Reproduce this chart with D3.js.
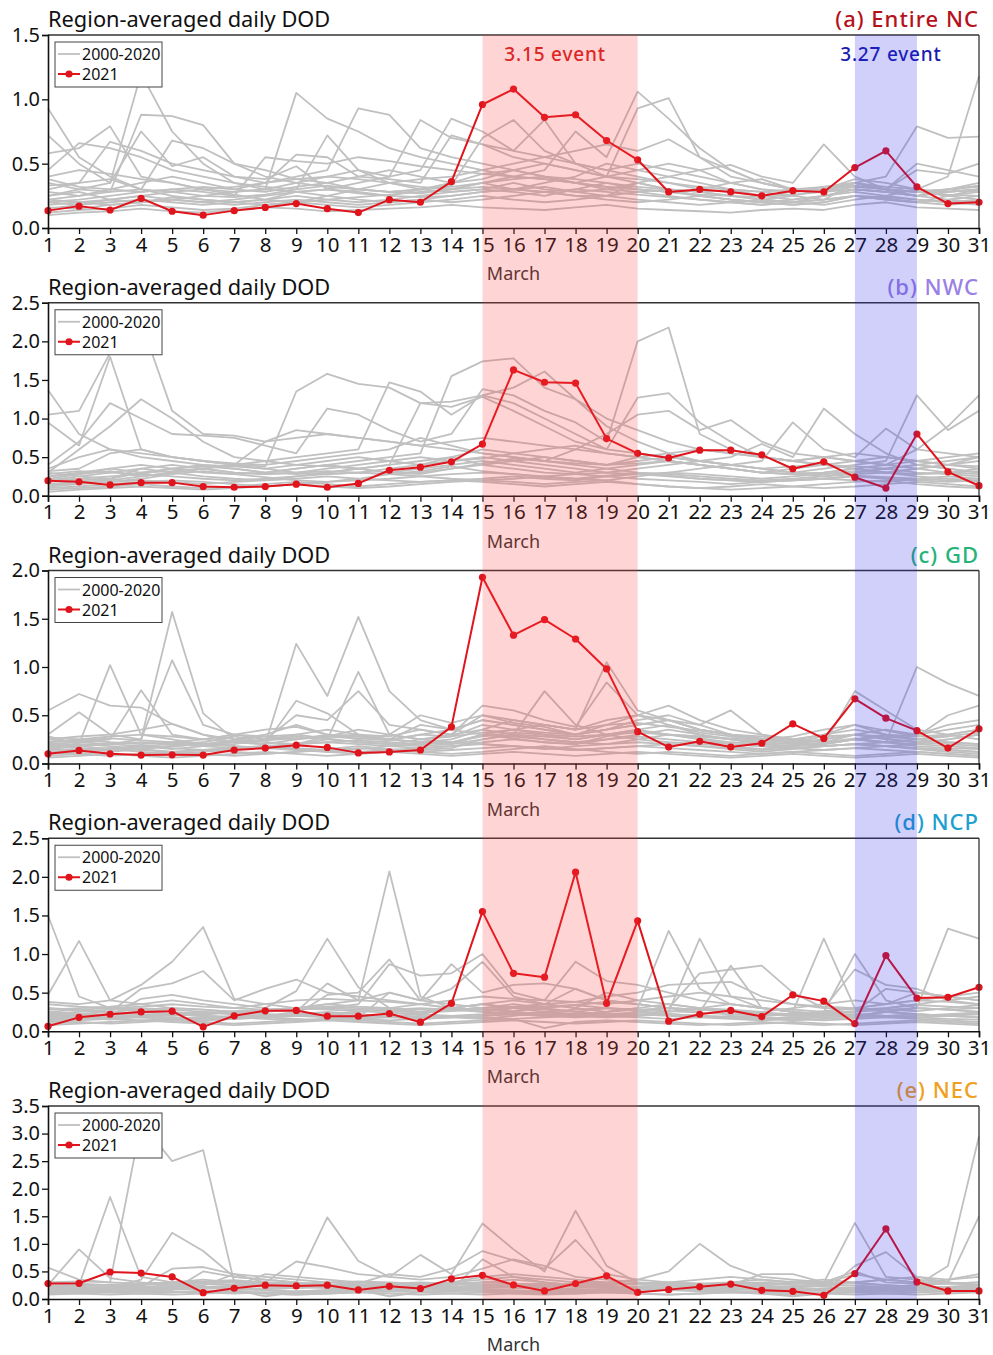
<!DOCTYPE html>
<html>
<head>
<meta charset="utf-8">
<script src="https://cdn.jsdelivr.net/npm/d3@7"></script>
<style>
  html, body { margin: 0; padding: 0; background: #fff; }
  svg { display: block; font-family: "Noto Sans", "Open Sans", sans-serif; }
</style>
</head>
<body>
<svg id="chart" width="993" height="1355"></svg>
<script>
// ---------------- DATA ----------------
const days = d3.range(1, 32);
const xAxisLabel = "March";
const yTitle = "Region-averaged daily DOD";
const legendLabels = ["2000-2020", "2021"];
const panelLabels = ["(a) Entire NC", "(b) NWC", "(c) GD", "(d) NCP", "(e) NEC"];
const yMax = [1.5, 2.5, 2.0, 2.5, 3.5];
const yTicksA = [0, 0.5, 1.0, 1.5];
const yTicksB = [0, 0.5, 1.0, 1.5, 2.0, 2.5];
const yTicksC = [0, 0.5, 1.0, 1.5, 2.0];
const yTicksD = [0, 0.5, 1.0, 1.5, 2.0, 2.5];
const yTicksE = [0, 0.5, 1.0, 1.5, 2.0, 2.5, 3.0, 3.5];
const event1 = {label: "3.15 event", start: 15, end: 20};
const event2 = {label: "3.27 event", start: 27, end: 29};

// 2021 red series
const red2021A = [0.135,0.17,0.14,0.23,0.13,0.10,0.135,0.16,0.19,0.15,0.12,0.22,0.20,0.36,0.96,1.08,0.86,0.88,0.68,0.53,0.28,0.30,0.28,0.25,0.29,0.28,0.47,0.60,0.32,0.19,0.20];
const red2021B = [0.195,0.18,0.14,0.17,0.17,0.12,0.11,0.12,0.15,0.11,0.16,0.33,0.37,0.44,0.67,1.63,1.47,1.46,0.74,0.55,0.49,0.59,0.59,0.53,0.35,0.44,0.24,0.10,0.80,0.31,0.13];
const red2021C = [0.10,0.135,0.10,0.087,0.09,0.087,0.14,0.16,0.19,0.167,0.11,0.12,0.14,0.38,1.93,1.33,1.49,1.29,0.98,0.33,0.17,0.23,0.17,0.21,0.41,0.26,0.67,0.47,0.34,0.16,0.36];
const red2021D = [0.065,0.18,0.22,0.25,0.26,0.057,0.20,0.265,0.27,0.195,0.195,0.23,0.117,0.36,1.55,0.75,0.70,2.06,0.36,1.43,0.13,0.22,0.27,0.19,0.47,0.39,0.10,0.98,0.43,0.44,0.57];
const red2021E = [0.28,0.285,0.49,0.47,0.40,0.115,0.195,0.25,0.237,0.25,0.164,0.23,0.19,0.365,0.43,0.255,0.146,0.28,0.42,0.12,0.17,0.22,0.27,0.158,0.14,0.067,0.46,1.27,0.31,0.146,0.146];

// 2000-2020 gray series (one row per year)
const grayA = [
[0.93,0.55,0.40,0.30,0.25,0.22,0.20,0.22,0.28,0.30,0.27,0.25,0.30,0.35,0.42,0.45,0.40,0.35,0.32,0.30,0.28,0.25,0.22,0.20,0.22,0.25,0.30,0.28,0.25,0.22,0.20],
[0.72,0.50,0.35,1.20,0.75,0.50,0.35,0.30,0.35,0.40,0.45,0.35,0.30,0.28,0.30,0.35,0.30,0.28,0.30,0.35,0.30,0.25,0.22,0.20,0.18,0.20,0.25,0.22,0.20,0.25,0.30],
[0.35,0.30,0.28,0.88,0.87,0.80,0.50,0.40,0.35,0.32,0.30,0.28,0.30,0.32,0.35,0.30,0.28,0.25,0.25,0.28,0.30,0.28,0.25,0.22,0.20,0.22,0.25,0.23,0.20,0.22,0.25],
[0.58,0.62,0.79,0.40,0.35,0.30,0.28,0.30,1.05,0.85,0.75,0.62,0.55,0.50,0.45,0.40,0.38,0.35,0.30,0.28,0.25,0.22,0.20,0.18,0.20,0.25,0.30,0.28,0.25,0.28,0.30],
[0.25,0.30,0.35,0.75,0.48,0.55,0.40,0.35,0.40,0.45,0.93,0.88,0.62,0.55,0.50,0.45,0.40,0.38,0.35,0.32,0.30,0.28,0.25,0.22,0.25,0.30,0.35,0.30,0.28,0.25,0.28],
[0.45,0.66,0.62,0.55,0.45,0.40,0.35,0.32,0.30,0.72,0.45,0.40,0.84,0.70,0.65,0.60,0.84,0.50,0.40,0.35,0.30,0.28,0.30,0.25,0.22,0.25,0.28,0.25,0.22,0.20,0.22],
[0.30,0.35,0.67,0.60,0.50,0.45,0.40,0.38,0.48,0.30,0.35,0.40,0.45,0.85,0.75,0.60,0.55,0.50,0.45,0.50,0.45,0.40,0.35,0.30,0.28,0.30,0.35,0.32,0.30,0.28,0.30],
[0.22,0.25,0.28,0.30,0.68,0.62,0.50,0.45,0.38,0.35,0.30,0.28,0.27,0.30,0.35,0.40,0.45,0.75,0.55,1.06,0.85,0.62,0.45,0.35,0.30,0.28,0.30,0.28,0.25,0.30,0.35],
[0.20,0.22,0.25,0.28,0.30,0.28,0.25,0.55,0.52,0.50,0.55,0.52,0.48,0.45,0.42,0.40,0.38,0.35,0.40,0.93,1.01,0.55,0.40,0.35,0.30,0.28,0.35,0.30,0.28,0.30,0.32],
[0.40,0.45,0.42,0.38,0.35,0.30,0.32,0.35,0.57,0.55,0.40,0.38,0.35,0.72,0.65,0.55,0.50,0.45,0.40,0.45,0.50,0.45,0.35,0.30,0.28,0.32,0.35,0.30,0.28,0.26,0.25],
[0.18,0.20,0.22,0.25,0.22,0.20,0.22,0.25,0.28,0.30,0.28,0.25,0.24,0.25,0.28,0.30,0.32,0.28,0.25,0.35,0.40,0.45,0.49,0.40,0.35,0.65,0.40,0.30,0.25,0.28,0.30],
[0.15,0.18,0.20,0.22,0.20,0.18,0.20,0.22,0.25,0.22,0.20,0.22,0.25,0.28,0.30,0.28,0.25,0.30,0.35,0.30,0.28,0.30,0.35,0.38,0.30,0.28,0.35,0.40,0.79,0.70,0.71],
[0.12,0.14,0.15,0.18,0.16,0.14,0.15,0.18,0.20,0.18,0.16,0.18,0.20,0.22,0.25,0.22,0.20,0.22,0.25,0.22,0.20,0.18,0.20,0.22,0.20,0.18,0.22,0.25,0.30,0.40,1.18],
[0.28,0.25,0.30,0.35,0.40,0.35,0.30,0.28,0.32,0.35,0.40,0.45,0.40,0.35,0.38,0.45,0.50,0.45,0.40,0.38,0.35,0.32,0.30,0.28,0.30,0.32,0.35,0.30,0.45,0.42,0.50],
[0.10,0.12,0.13,0.15,0.13,0.12,0.14,0.16,0.15,0.13,0.14,0.15,0.16,0.18,0.16,0.15,0.14,0.16,0.18,0.15,0.14,0.13,0.12,0.14,0.15,0.14,0.18,0.20,0.16,0.15,0.14],
[0.33,0.35,0.38,0.30,0.28,0.25,0.24,0.26,0.30,0.33,0.30,0.28,0.30,0.33,0.70,0.84,0.60,0.50,0.45,0.40,0.35,0.30,0.28,0.25,0.28,0.30,0.33,0.30,0.28,0.30,0.33],
[0.20,0.18,0.22,0.25,0.28,0.30,0.26,0.22,0.20,0.25,0.30,0.35,0.38,0.40,0.45,0.50,0.55,0.60,0.65,0.60,0.69,0.55,0.45,0.35,0.30,0.30,0.38,0.35,0.30,0.25,0.22],
[0.25,0.28,0.22,0.20,0.22,0.25,0.28,0.30,0.28,0.25,0.22,0.20,0.22,0.25,0.28,0.30,0.35,0.40,0.50,0.45,0.40,0.35,0.30,0.28,0.25,0.22,0.35,0.30,0.50,0.45,0.40],
[0.16,0.15,0.18,0.20,0.22,0.20,0.18,0.20,0.22,0.20,0.18,0.20,0.22,0.20,0.22,0.25,0.28,0.25,0.22,0.20,0.22,0.25,0.22,0.20,0.18,0.20,0.25,0.22,0.20,0.18,0.20],
[0.38,0.32,0.30,0.28,0.30,0.32,0.30,0.35,0.38,0.40,0.38,0.35,0.32,0.30,0.35,0.38,0.40,0.35,0.32,0.30,0.28,0.26,0.25,0.24,0.26,0.28,0.32,0.30,0.28,0.30,0.28],
[0.22,0.20,0.18,0.20,0.24,0.22,0.20,0.18,0.20,0.22,0.24,0.26,0.28,0.30,0.32,0.30,0.28,0.30,0.28,0.26,0.24,0.22,0.20,0.18,0.20,0.22,0.25,0.24,0.22,0.20,0.18]
];
const grayB = [
[1.37,0.80,0.60,0.50,0.45,0.40,0.38,0.35,0.40,0.45,0.50,0.45,0.40,0.50,0.60,0.55,0.50,0.45,0.40,0.50,0.45,0.40,0.35,0.30,0.28,0.30,0.35,0.30,0.28,0.30,0.32],
[1.05,1.10,1.85,2.25,1.10,0.80,0.78,0.70,0.75,0.80,0.75,0.70,0.65,0.70,0.75,0.70,0.65,0.60,0.55,0.50,0.45,0.40,0.35,0.30,0.35,0.40,0.38,0.35,0.40,0.45,0.50],
[0.95,0.65,1.80,0.60,0.50,0.45,0.40,0.38,1.35,1.58,1.45,1.40,1.20,1.22,1.30,1.20,1.00,0.80,0.60,0.55,0.50,0.45,0.40,0.35,0.38,0.40,0.35,0.30,0.35,0.40,0.38],
[0.40,0.70,1.20,1.00,0.80,0.78,0.75,0.65,0.55,1.13,1.05,0.85,0.70,0.80,1.38,1.30,1.10,0.95,0.70,2.00,2.18,0.80,0.60,0.50,0.45,0.50,0.45,0.40,0.45,0.50,0.55],
[0.30,0.60,0.90,1.25,1.00,0.70,0.50,0.45,0.50,0.55,0.60,1.47,1.35,1.05,1.30,1.40,1.61,1.25,1.00,0.85,0.70,0.60,0.55,0.50,0.45,0.50,0.55,0.50,0.45,0.40,0.35],
[0.25,0.30,0.35,0.40,0.35,0.30,0.28,0.30,0.35,0.40,0.45,0.50,0.55,1.55,1.74,1.78,1.40,1.25,0.90,0.70,0.55,0.45,0.40,0.35,0.30,0.28,0.32,0.30,0.35,0.30,0.28],
[0.20,0.25,0.30,0.35,0.30,0.25,0.22,0.20,0.25,0.30,0.35,0.40,1.20,1.15,1.28,1.10,0.90,0.70,0.60,1.27,1.33,0.95,0.70,0.50,0.45,0.40,0.35,0.30,0.28,0.30,0.35],
[0.35,0.50,0.60,0.55,0.50,0.45,0.40,0.70,0.85,0.80,0.75,0.70,0.65,0.60,0.55,0.50,0.45,0.60,0.80,1.05,1.10,0.85,0.98,0.70,0.55,0.50,0.45,0.40,0.35,0.40,0.45],
[0.15,0.18,0.20,0.25,0.30,0.35,0.40,0.35,0.30,0.28,0.30,0.35,0.40,0.45,0.50,0.45,0.40,0.35,0.30,0.35,0.40,0.45,0.50,0.67,0.50,1.13,0.80,0.55,0.40,0.35,0.30],
[0.10,0.12,0.15,0.18,0.20,0.18,0.15,0.12,0.15,0.18,0.20,0.22,0.25,0.28,0.30,0.28,0.25,0.22,0.20,0.25,0.30,0.35,0.40,0.45,0.95,0.60,0.50,0.87,0.60,0.90,1.30],
[0.28,0.32,0.30,0.28,0.35,0.40,0.35,0.30,0.28,0.30,0.35,0.30,0.28,0.35,0.40,0.45,0.50,0.45,0.40,0.45,0.50,0.45,0.40,0.35,0.30,0.35,0.40,0.45,1.30,0.85,1.10],
[0.05,0.08,0.10,0.12,0.10,0.08,0.10,0.12,0.15,0.12,0.10,0.12,0.15,0.18,0.20,0.18,0.15,0.18,0.20,0.15,0.12,0.10,0.12,0.15,0.12,0.10,0.12,0.15,0.18,0.15,0.12],
[0.32,0.35,0.55,0.60,0.50,0.45,0.42,0.40,0.45,0.50,0.55,0.60,0.75,0.65,0.55,0.50,0.45,0.40,0.35,0.30,0.28,0.25,0.22,0.20,0.22,0.25,0.28,0.30,0.25,0.22,0.20],
[0.20,0.22,0.25,0.28,0.25,0.22,0.20,0.22,0.25,0.28,0.30,0.28,0.25,0.22,0.20,0.22,0.25,0.28,0.30,0.28,0.25,0.22,0.20,0.18,0.20,0.22,0.25,0.22,0.20,0.18,0.20],
[0.12,0.15,0.18,0.20,0.18,0.15,0.18,0.20,0.22,0.25,0.22,0.20,0.18,0.20,0.22,0.25,0.22,0.20,0.25,0.22,0.20,0.18,0.15,0.18,0.20,0.22,0.20,0.18,0.22,0.25,0.22],
[0.25,0.28,0.35,0.30,0.32,0.35,0.30,0.28,0.30,0.35,0.40,0.45,0.50,0.45,0.48,0.55,0.60,0.65,0.55,0.50,0.55,0.60,0.55,0.50,0.45,0.40,0.45,0.50,0.45,0.40,0.50],
[0.30,0.25,0.22,0.30,0.35,0.38,0.35,0.30,0.35,0.40,0.35,0.30,0.35,0.40,0.45,0.40,0.35,0.30,0.35,0.40,0.45,0.40,0.35,0.30,0.28,0.25,0.30,0.35,0.40,0.35,0.30],
[0.08,0.10,0.12,0.15,0.12,0.10,0.12,0.15,0.18,0.15,0.12,0.15,0.18,0.20,0.18,0.15,0.12,0.15,0.18,0.15,0.12,0.10,0.08,0.10,0.12,0.15,0.18,0.20,0.15,0.12,0.10],
[0.18,0.20,0.22,0.35,0.40,0.35,0.30,0.28,0.30,0.32,0.30,0.28,0.30,0.35,0.42,0.48,0.45,0.42,0.40,0.42,0.45,0.40,0.35,0.30,0.28,0.30,0.35,0.40,0.60,0.55,0.50],
[0.22,0.28,0.32,0.25,0.30,0.35,0.40,0.45,0.40,0.38,0.35,0.40,0.45,0.50,0.40,0.35,0.30,0.28,0.25,0.28,0.30,0.28,0.25,0.22,0.25,0.28,0.30,0.35,0.30,0.28,0.25],
[0.14,0.16,0.18,0.22,0.28,0.32,0.28,0.24,0.20,0.18,0.22,0.28,0.32,0.38,0.32,0.28,0.24,0.22,0.26,0.30,0.26,0.22,0.20,0.18,0.20,0.22,0.26,0.24,0.22,0.20,0.18]
];
const grayC = [
[0.55,0.72,0.60,0.58,0.41,0.30,0.22,0.20,0.25,0.30,0.28,0.25,0.30,0.35,0.45,0.40,0.35,0.30,0.35,0.40,0.45,0.35,0.30,0.25,0.22,0.25,0.30,0.28,0.25,0.22,0.20],
[0.30,0.53,0.30,0.25,1.57,0.52,0.25,0.20,1.24,0.70,1.52,0.75,0.45,0.35,0.30,0.28,0.25,0.22,0.20,0.25,0.30,0.28,0.25,0.22,0.20,0.18,0.20,0.22,0.25,0.22,0.20],
[0.28,0.20,1.02,0.30,0.25,0.20,0.18,0.15,0.20,0.25,0.95,0.30,0.25,0.22,0.30,0.35,0.40,0.35,1.05,0.55,0.45,0.35,0.30,0.25,0.22,0.20,0.25,0.22,0.20,0.18,0.16],
[0.20,0.22,0.25,0.76,0.30,0.25,0.22,0.20,0.65,0.52,0.30,0.25,0.22,0.20,0.25,0.30,0.75,0.40,0.30,0.25,0.22,0.20,0.18,0.15,0.18,0.20,0.75,0.55,0.35,0.30,0.25],
[0.15,0.18,0.20,0.25,1.07,0.40,0.30,0.25,0.50,0.45,0.75,0.40,0.35,0.30,0.60,0.55,0.45,0.38,0.84,0.50,0.45,0.35,0.30,0.25,0.22,0.20,0.25,0.22,1.00,0.83,0.70],
[0.25,0.28,0.30,0.35,0.41,0.30,0.25,0.30,0.40,0.30,0.25,0.30,0.50,0.42,0.50,0.45,0.40,0.35,0.40,0.50,0.60,0.45,0.35,0.30,0.25,0.22,0.30,0.35,0.30,0.40,0.45],
[0.10,0.12,0.15,0.12,0.10,0.12,0.15,0.18,0.15,0.12,0.15,0.18,0.20,0.22,0.20,0.18,0.15,0.18,0.20,0.22,0.20,0.18,0.15,0.12,0.15,0.18,0.20,0.18,0.15,0.12,0.10],
[0.22,0.25,0.28,0.30,0.28,0.25,0.30,0.35,0.38,0.30,0.28,0.25,0.40,0.35,0.45,0.40,0.35,0.30,0.35,0.40,0.45,0.40,0.55,0.30,0.25,0.22,0.25,0.30,0.28,0.50,0.60],
[0.08,0.10,0.12,0.15,0.12,0.10,0.08,0.10,0.12,0.15,0.18,0.15,0.12,0.10,0.12,0.15,0.18,0.15,0.12,0.10,0.12,0.10,0.08,0.10,0.12,0.10,0.08,0.10,0.12,0.10,0.08],
[0.18,0.20,0.18,0.15,0.18,0.20,0.22,0.25,0.28,0.25,0.22,0.20,0.25,0.30,0.35,0.30,0.25,0.22,0.25,0.30,0.35,0.30,0.25,0.22,0.20,0.25,0.30,0.25,0.22,0.25,0.30],
[0.12,0.14,0.16,0.18,0.16,0.14,0.16,0.18,0.20,0.22,0.20,0.18,0.16,0.18,0.22,0.25,0.22,0.20,0.25,0.28,0.25,0.22,0.20,0.18,0.16,0.18,0.20,0.18,0.16,0.14,0.12],
[0.27,0.25,0.22,0.20,0.22,0.25,0.30,0.28,0.25,0.28,0.30,0.28,0.35,0.30,0.50,0.42,0.38,0.30,0.35,0.45,0.50,0.40,0.30,0.28,0.25,0.30,0.35,0.30,0.25,0.28,0.32],
[0.06,0.08,0.10,0.08,0.06,0.08,0.10,0.12,0.10,0.08,0.10,0.12,0.10,0.08,0.10,0.12,0.10,0.08,0.10,0.12,0.10,0.08,0.06,0.08,0.10,0.08,0.06,0.08,0.10,0.08,0.06],
[0.20,0.18,0.15,0.18,0.20,0.22,0.28,0.22,0.20,0.28,0.35,0.30,0.25,0.28,0.40,0.35,0.30,0.25,0.30,0.35,0.40,0.32,0.28,0.25,0.28,0.35,0.40,0.30,0.25,0.30,0.35],
[0.14,0.15,0.16,0.14,0.12,0.14,0.16,0.18,0.16,0.14,0.12,0.14,0.16,0.18,0.20,0.18,0.16,0.14,0.16,0.18,0.20,0.18,0.16,0.14,0.16,0.18,0.20,0.18,0.16,0.14,0.12],
[0.10,0.12,0.14,0.16,0.18,0.20,0.18,0.16,0.14,0.12,0.10,0.12,0.14,0.16,0.25,0.30,0.28,0.25,0.30,0.35,0.30,0.25,0.20,0.18,0.16,0.14,0.16,0.18,0.20,0.25,0.30],
[0.25,0.22,0.20,0.18,0.15,0.18,0.20,0.25,0.30,0.35,0.30,0.25,0.22,0.25,0.35,0.45,0.40,0.35,0.45,0.50,0.40,0.30,0.25,0.20,0.18,0.20,0.25,0.28,0.30,0.35,0.40],
[0.16,0.18,0.20,0.22,0.20,0.18,0.16,0.18,0.20,0.22,0.24,0.22,0.20,0.22,0.28,0.32,0.30,0.28,0.30,0.32,0.30,0.28,0.26,0.24,0.22,0.28,0.30,0.26,0.22,0.20,0.18],
[0.12,0.10,0.08,0.10,0.12,0.14,0.12,0.10,0.12,0.14,0.16,0.14,0.12,0.14,0.16,0.18,0.16,0.14,0.16,0.18,0.16,0.14,0.12,0.10,0.12,0.14,0.16,0.14,0.12,0.10,0.08],
[0.22,0.24,0.26,0.24,0.22,0.20,0.22,0.24,0.26,0.28,0.26,0.24,0.30,0.28,0.32,0.35,0.32,0.30,0.40,0.42,0.38,0.34,0.30,0.26,0.24,0.30,0.40,0.34,0.28,0.30,0.35],
[0.18,0.16,0.14,0.16,0.18,0.20,0.24,0.28,0.30,0.26,0.22,0.20,0.18,0.20,0.30,0.26,0.22,0.20,0.28,0.34,0.30,0.26,0.22,0.20,0.18,0.22,0.26,0.22,0.18,0.16,0.15]
];
const grayD = [
[1.50,0.45,0.30,0.25,0.22,0.20,0.18,0.20,0.22,0.25,0.22,0.20,0.18,0.20,0.22,0.25,0.22,0.20,0.18,0.20,0.22,0.20,0.18,0.16,0.18,0.20,0.22,0.20,0.18,0.16,0.15],
[0.47,1.17,0.40,0.35,0.30,0.28,0.25,0.22,0.20,0.22,0.25,0.30,0.35,0.30,0.28,0.25,0.22,0.20,0.25,0.30,1.30,0.55,0.35,0.30,0.25,0.22,0.20,0.25,0.30,0.28,0.25],
[0.38,0.35,0.40,0.60,0.90,1.35,0.42,0.35,0.30,0.35,0.40,0.50,0.40,0.35,0.30,0.35,0.30,0.25,0.22,0.20,0.25,1.20,0.45,0.30,0.25,0.22,0.20,0.25,0.22,0.20,0.18],
[0.30,0.28,0.25,0.55,0.62,0.78,0.40,0.55,0.67,0.50,0.45,0.40,0.35,0.30,0.35,0.30,0.25,0.22,0.20,0.25,0.30,0.25,0.85,0.30,0.25,0.22,0.20,0.25,0.30,1.33,1.20],
[0.25,0.22,0.20,0.42,0.47,0.40,0.35,0.30,0.52,1.20,0.57,0.30,0.25,0.30,0.35,0.30,0.28,0.25,0.30,0.28,0.25,0.30,0.35,0.30,0.25,1.20,0.30,0.25,0.22,0.20,0.25],
[0.20,0.18,0.15,0.20,0.22,0.25,0.22,0.20,0.25,0.62,0.40,2.07,0.45,0.30,0.25,0.30,0.35,0.30,0.25,0.30,0.35,0.30,0.25,0.20,0.22,0.25,1.00,0.40,0.30,0.28,0.30],
[0.15,0.18,0.22,0.25,0.22,0.20,0.18,0.20,0.22,0.47,0.50,0.93,0.40,0.87,0.50,0.60,0.62,0.55,0.40,0.35,0.30,0.75,0.80,0.85,0.50,0.30,0.80,0.60,0.55,0.40,0.35],
[0.22,0.25,0.28,0.30,0.28,0.25,0.22,0.25,0.28,0.30,0.35,0.87,0.72,0.75,1.00,0.50,0.40,0.90,0.65,0.60,0.50,0.40,0.35,0.30,0.28,0.25,0.30,0.35,0.40,0.45,0.50],
[0.18,0.20,0.22,0.20,0.18,0.16,0.18,0.20,0.22,0.20,0.18,0.50,0.40,0.55,0.90,0.45,0.35,0.55,0.40,0.35,0.30,0.28,0.25,0.22,0.20,0.22,0.25,0.55,0.50,0.45,0.40],
[0.12,0.14,0.16,0.18,0.16,0.14,0.16,0.18,0.20,0.18,0.16,0.14,0.16,0.18,0.20,0.22,0.20,0.18,0.20,0.22,0.20,0.18,0.16,0.14,0.16,0.18,0.20,0.18,0.16,0.14,0.12],
[0.28,0.30,0.32,0.35,0.40,0.35,0.30,0.28,0.30,0.35,0.32,0.30,0.28,0.30,0.35,0.40,0.35,0.30,0.50,0.40,0.35,0.30,0.28,0.25,0.30,0.35,0.40,0.35,0.50,0.45,0.40],
[0.10,0.12,0.10,0.12,0.14,0.12,0.10,0.12,0.14,0.16,0.14,0.12,0.10,0.12,0.14,0.16,0.04,0.12,0.14,0.12,0.10,0.08,0.10,0.12,0.10,0.08,0.10,0.12,0.14,0.12,0.10],
[0.20,0.22,0.25,0.28,0.30,0.28,0.25,0.22,0.20,0.22,0.25,0.28,0.30,0.28,0.25,0.22,0.20,0.22,0.25,0.28,0.30,0.28,0.25,0.22,0.20,0.22,0.25,0.28,0.30,0.28,0.25],
[0.16,0.18,0.20,0.18,0.16,0.14,0.16,0.18,0.20,0.22,0.20,0.18,0.16,0.18,0.20,0.22,0.24,0.22,0.20,0.18,0.16,0.18,0.20,0.18,0.16,0.14,0.16,0.18,0.20,0.22,0.24],
[0.35,0.32,0.30,0.28,0.25,0.22,0.25,0.28,0.30,0.32,0.30,0.28,0.25,0.28,0.30,0.32,0.35,0.38,0.45,0.50,0.60,0.62,0.64,0.45,0.35,0.30,0.28,0.30,0.35,0.40,0.45],
[0.14,0.16,0.18,0.20,0.22,0.20,0.18,0.16,0.14,0.16,0.18,0.20,0.22,0.20,0.18,0.16,0.18,0.20,0.22,0.24,0.22,0.20,0.18,0.16,0.18,0.20,0.22,0.20,0.18,0.20,0.22],
[0.25,0.28,0.30,0.32,0.35,0.32,0.30,0.35,0.40,0.42,0.40,0.38,0.35,0.40,0.45,0.42,0.40,0.38,0.35,0.40,0.45,0.50,0.45,0.40,0.35,0.32,0.30,0.35,0.40,0.38,0.35],
[0.08,0.10,0.12,0.14,0.12,0.10,0.08,0.10,0.12,0.14,0.12,0.10,0.08,0.10,0.12,0.14,0.12,0.10,0.12,0.14,0.12,0.10,0.08,0.10,0.12,0.10,0.08,0.10,0.12,0.10,0.08],
[0.22,0.20,0.18,0.20,0.22,0.24,0.26,0.28,0.30,0.28,0.26,0.24,0.22,0.30,0.28,0.26,0.30,0.34,0.38,0.35,0.30,0.28,0.26,0.24,0.22,0.26,0.30,0.28,0.26,0.30,0.34],
[0.18,0.20,0.16,0.14,0.16,0.18,0.20,0.18,0.16,0.14,0.16,0.18,0.20,0.18,0.16,0.20,0.25,0.28,0.30,0.26,0.22,0.20,0.18,0.16,0.14,0.16,0.18,0.20,0.22,0.20,0.18],
[0.30,0.26,0.24,0.22,0.20,0.22,0.24,0.26,0.28,0.30,0.28,0.26,0.24,0.26,0.28,0.30,0.32,0.34,0.30,0.28,0.26,0.24,0.22,0.20,0.22,0.24,0.26,0.30,0.34,0.32,0.30]
];
const grayE = [
[0.57,0.35,0.30,3.20,2.50,2.70,0.30,0.25,0.22,0.20,0.22,0.25,0.20,0.18,0.20,0.22,0.20,0.18,0.16,0.18,0.20,0.18,0.16,0.18,0.20,0.18,0.16,0.18,0.20,0.22,0.25],
[0.25,0.90,0.38,0.30,0.25,0.22,0.20,0.18,0.20,0.22,0.20,0.18,0.20,0.22,0.25,0.22,0.20,0.18,0.16,0.15,0.16,0.18,0.20,0.18,0.16,0.15,0.16,0.18,0.20,0.22,0.20],
[0.20,0.25,1.85,0.40,0.30,0.28,0.25,0.22,0.20,0.25,0.30,0.28,0.25,0.28,0.30,0.28,0.25,0.22,0.20,0.18,0.20,0.22,0.25,0.22,0.20,0.18,0.20,0.22,0.25,0.60,2.95],
[0.15,0.18,0.20,0.35,1.20,0.87,0.40,0.35,0.30,0.25,0.22,0.20,0.18,0.20,0.22,0.20,0.18,0.16,0.18,0.20,0.18,0.16,0.18,0.20,0.18,0.16,0.18,0.20,0.22,0.30,1.50],
[0.30,0.28,0.25,0.22,0.55,0.58,0.45,0.30,0.68,0.58,0.45,0.40,0.35,0.40,0.55,0.72,0.60,0.40,0.35,0.30,0.28,0.25,0.30,0.35,0.30,0.28,0.30,0.35,0.40,0.35,0.45],
[0.12,0.14,0.16,0.18,0.16,0.50,0.40,0.35,0.30,1.48,0.69,0.40,0.80,0.45,1.37,0.90,0.50,1.60,0.60,0.30,0.25,0.22,0.20,0.18,0.16,0.18,0.20,0.22,0.20,0.18,0.16],
[0.22,0.20,0.18,0.20,0.22,0.24,0.45,0.40,0.35,0.30,0.28,0.45,0.40,0.55,0.87,0.70,0.55,1.07,0.45,0.35,0.50,1.00,0.60,0.40,0.35,0.30,1.38,0.40,0.35,0.30,0.25],
[0.10,0.12,0.14,0.16,0.14,0.12,0.10,0.12,0.14,0.16,0.18,0.16,0.14,0.16,0.72,0.40,0.30,0.25,0.22,0.20,0.18,0.16,0.14,0.12,0.10,0.12,0.60,0.85,0.40,0.30,0.25],
[0.18,0.16,0.14,0.16,0.18,0.20,0.22,0.45,0.40,0.35,0.30,0.28,0.25,0.22,0.20,0.22,0.25,0.28,0.30,0.35,0.30,0.28,0.25,0.45,0.45,0.30,0.28,0.25,0.22,0.20,0.18],
[0.08,0.10,0.12,0.10,0.08,0.10,0.12,0.10,0.08,0.10,0.12,0.10,0.08,0.10,0.12,0.10,0.08,0.10,0.12,0.10,0.08,0.10,0.12,0.10,0.08,0.10,0.12,0.10,0.08,0.10,0.12],
[0.25,0.22,0.20,0.22,0.25,0.28,0.30,0.28,0.25,0.22,0.20,0.22,0.25,0.28,0.30,0.28,0.25,0.22,0.20,0.22,0.25,0.28,0.30,0.28,0.25,0.22,0.20,0.22,0.25,0.28,0.30],
[0.14,0.16,0.18,0.20,0.22,0.20,0.18,0.16,0.14,0.16,0.18,0.20,0.22,0.20,0.18,0.16,0.14,0.16,0.18,0.20,0.22,0.20,0.18,0.16,0.14,0.16,0.18,0.20,0.22,0.20,0.18],
[0.20,0.18,0.16,0.14,0.12,0.14,0.16,0.18,0.20,0.22,0.24,0.22,0.20,0.18,0.16,0.14,0.12,0.14,0.16,0.18,0.20,0.22,0.24,0.22,0.20,0.18,0.16,0.14,0.12,0.14,0.16],
[0.16,0.14,0.12,0.10,0.12,0.14,0.16,0.05,0.12,0.14,0.16,0.05,0.12,0.14,0.16,0.14,0.12,0.10,0.12,0.14,0.16,0.14,0.12,0.10,0.05,0.10,0.12,0.14,0.16,0.14,0.12],
[0.28,0.26,0.24,0.26,0.28,0.30,0.32,0.30,0.28,0.26,0.24,0.26,0.28,0.30,0.35,0.40,0.35,0.30,0.28,0.26,0.24,0.26,0.28,0.30,0.32,0.30,0.50,0.30,0.28,0.35,0.40],
[0.12,0.10,0.08,0.10,0.12,0.14,0.12,0.10,0.08,0.10,0.12,0.14,0.12,0.10,0.08,0.10,0.12,0.14,0.12,0.10,0.08,0.10,0.12,0.14,0.12,0.10,0.08,0.10,0.12,0.14,0.12],
[0.22,0.24,0.26,0.28,0.30,0.28,0.26,0.24,0.22,0.24,0.26,0.28,0.30,0.28,0.26,0.24,0.22,0.24,0.26,0.28,0.30,0.28,0.26,0.24,0.22,0.24,0.30,0.35,0.30,0.28,0.26],
[0.18,0.20,0.22,0.25,0.30,0.35,0.30,0.25,0.22,0.20,0.18,0.20,0.22,0.25,0.30,0.35,0.30,0.25,0.22,0.20,0.18,0.20,0.22,0.25,0.30,0.35,0.30,0.25,0.22,0.20,0.18],
[0.30,0.32,0.30,0.28,0.30,0.32,0.34,0.30,0.28,0.30,0.32,0.30,0.28,0.30,0.40,0.45,0.40,0.35,0.30,0.28,0.30,0.35,0.40,0.35,0.30,0.28,0.45,0.35,0.30,0.28,0.30],
[0.10,0.12,0.14,0.16,0.18,0.16,0.14,0.12,0.10,0.12,0.14,0.16,0.18,0.16,0.14,0.12,0.10,0.12,0.14,0.16,0.18,0.16,0.14,0.12,0.10,0.12,0.14,0.16,0.18,0.16,0.14],
[0.24,0.22,0.20,0.18,0.20,0.22,0.24,0.26,0.28,0.26,0.24,0.22,0.20,0.22,0.24,0.26,0.28,0.26,0.24,0.22,0.20,0.22,0.24,0.26,0.28,0.26,0.24,0.22,0.20,0.22,0.24]
];

// ---------------- LAYOUT ----------------
const panelColors = ["#b5121b", "#9a80e6", "#25b37a", "#1e9fcf", "#f0a020"];
const redColor = "#e0141c";
const grayColor = "#c0c0c0";
const margin = {left: 48, right: 979};
const panelTop0 = 35, panelStep = 267.75, panelH = 193;

const panels = [
  {gray: grayA, red: red2021A, ymax: yMax[0], ticks: yTicksA, label: panelLabels[0], color: panelColors[0]},
  {gray: grayB, red: red2021B, ymax: yMax[1], ticks: yTicksB, label: panelLabels[1], color: panelColors[1]},
  {gray: grayC, red: red2021C, ymax: yMax[2], ticks: yTicksC, label: panelLabels[2], color: panelColors[2]},
  {gray: grayD, red: red2021D, ymax: yMax[3], ticks: yTicksD, label: panelLabels[3], color: panelColors[3]},
  {gray: grayE, red: red2021E, ymax: yMax[4], ticks: yTicksE, label: panelLabels[4], color: panelColors[4]}
];

const svg = d3.select("#chart");
const x = d3.scaleLinear().domain([1, 31]).range([margin.left, margin.right]);

panels.forEach((p, i) => {
  const top = panelTop0 + i * panelStep;
  const bottom = top + panelH;
  const y = d3.scaleLinear().domain([0, p.ymax]).range([bottom, top]);
  const g = svg.append("g");

  const line = d3.line().x((d, j) => x(days[j])).y(d => y(d));

  // gray lines
  g.append("g").selectAll("path").data(p.gray).join("path")
    .attr("d", line)
    .attr("fill", "none")
    .attr("stroke", grayColor)
    .attr("stroke-width", 1.8)
    .attr("stroke-linejoin", "round");

  // red line
  g.append("path").datum(p.red)
    .attr("d", line)
    .attr("fill", "none")
    .attr("stroke", redColor)
    .attr("stroke-width", 2)
    .attr("stroke-linejoin", "round");
  g.append("g").selectAll("circle").data(p.red).join("circle")
    .attr("cx", (d, j) => x(days[j]))
    .attr("cy", d => y(d))
    .attr("r", 3.6)
    .attr("fill", redColor);

  // frame top/right
  g.append("line").attr("x1", x(1)).attr("x2", x(31)).attr("y1", top).attr("y2", top)
    .attr("stroke", "#333").attr("stroke-width", 1.3);
  g.append("line").attr("x1", x(31)).attr("x2", x(31)).attr("y1", top).attr("y2", bottom)
    .attr("stroke", "#333").attr("stroke-width", 1.3);

  // axes
  const xAxis = d3.axisBottom(x).tickValues(days).tickFormat(d3.format("d")).tickSize(6).tickPadding(3);
  const gx = g.append("g").attr("transform", `translate(0,${bottom})`).call(xAxis);
  gx.select(".domain").attr("stroke", "#111").attr("stroke-width", 1.6);
  gx.selectAll(".tick line").attr("stroke", "#111").attr("stroke-width", 1.3);
  gx.selectAll("text").attr("font-size", 20.5).attr("fill", "#111")
    .attr("font-family", "'Noto Sans', sans-serif");

  const yAxis = d3.axisLeft(y).tickValues(p.ticks).tickFormat(d3.format(".1f")).tickSize(6).tickPadding(2);
  const gy = g.append("g").attr("transform", `translate(${x(1)},0)`).call(yAxis);
  gy.select(".domain").attr("stroke", "#111").attr("stroke-width", 1.6);
  gy.selectAll(".tick line").attr("stroke", "#111").attr("stroke-width", 1.3);
  gy.selectAll("text").attr("font-size", 20).attr("fill", "#111")
    .attr("font-family", "'Noto Sans', sans-serif");

  // title
  g.append("text").attr("x", x(1)).attr("y", top - 8)
    .attr("font-size", 21.8).attr("fill", "#111").text(yTitle);
  // panel label
  g.append("text").attr("x", x(31)).attr("y", top - 8)
    .attr("text-anchor", "end").attr("font-size", 22).attr("font-weight", 500)
    .attr("letter-spacing", 1).attr("fill", p.color).text(p.label);
  // March label
  g.append("text").attr("x", x(16)).attr("y", bottom + 52)
    .attr("text-anchor", "middle").attr("font-size", 18).attr("fill", "#333").text(xAxisLabel);

  // legend
  const lg = g.append("g");
  lg.append("rect").attr("x", x(1) + 7).attr("y", top + 7).attr("width", 107).attr("height", 45)
    .attr("fill", "#fff").attr("stroke", "#444").attr("stroke-width", 1);
  lg.append("line").attr("x1", x(1) + 10).attr("x2", x(1) + 32).attr("y1", top + 19).attr("y2", top + 19)
    .attr("stroke", grayColor).attr("stroke-width", 1.8);
  lg.append("text").attr("x", x(1) + 34).attr("y", top + 25).attr("font-size", 16).attr("fill", "#111").text(legendLabels[0]);
  lg.append("line").attr("x1", x(1) + 10).attr("x2", x(1) + 32).attr("y1", top + 39).attr("y2", top + 39)
    .attr("stroke", redColor).attr("stroke-width", 2);
  lg.append("circle").attr("cx", x(1) + 21).attr("cy", top + 39).attr("r", 3.6).attr("fill", redColor);
  lg.append("text").attr("x", x(1) + 34).attr("y", top + 45).attr("font-size", 16).attr("fill", "#111").text(legendLabels[1]);

  if (i === 0) {
    g.append("text").attr("x", (x(event1.start) + x(event1.end)) / 2 - 5).attr("y", top + 26)
      .attr("text-anchor", "middle").attr("font-size", 19).attr("font-weight", 500)
      .attr("letter-spacing", 0.8).attr("fill", "#d42020").text(event1.label);
    g.append("text").attr("x", (x(event2.start) + x(event2.end)) / 2 + 5).attr("y", top + 26)
      .attr("text-anchor", "middle").attr("font-size", 19).attr("font-weight", 500)
      .attr("letter-spacing", 0.8).attr("fill", "#1a1ab0").text(event2.label);
  }
});

// event bands on top of everything
const bandTop = panelTop0;
const bandBottom = panelTop0 + 4 * panelStep + panelH;
svg.append("rect")
  .attr("x", x(event1.start)).attr("width", x(event1.end) - x(event1.start))
  .attr("y", bandTop).attr("height", bandBottom - bandTop)
  .attr("fill", "rgb(255,60,60)").attr("fill-opacity", 0.22);
svg.append("rect")
  .attr("x", x(event2.start)).attr("width", x(event2.end) - x(event2.start))
  .attr("y", bandTop).attr("height", bandBottom - bandTop)
  .attr("fill", "rgb(40,40,230)").attr("fill-opacity", 0.22);
</script>
</body>
</html>
